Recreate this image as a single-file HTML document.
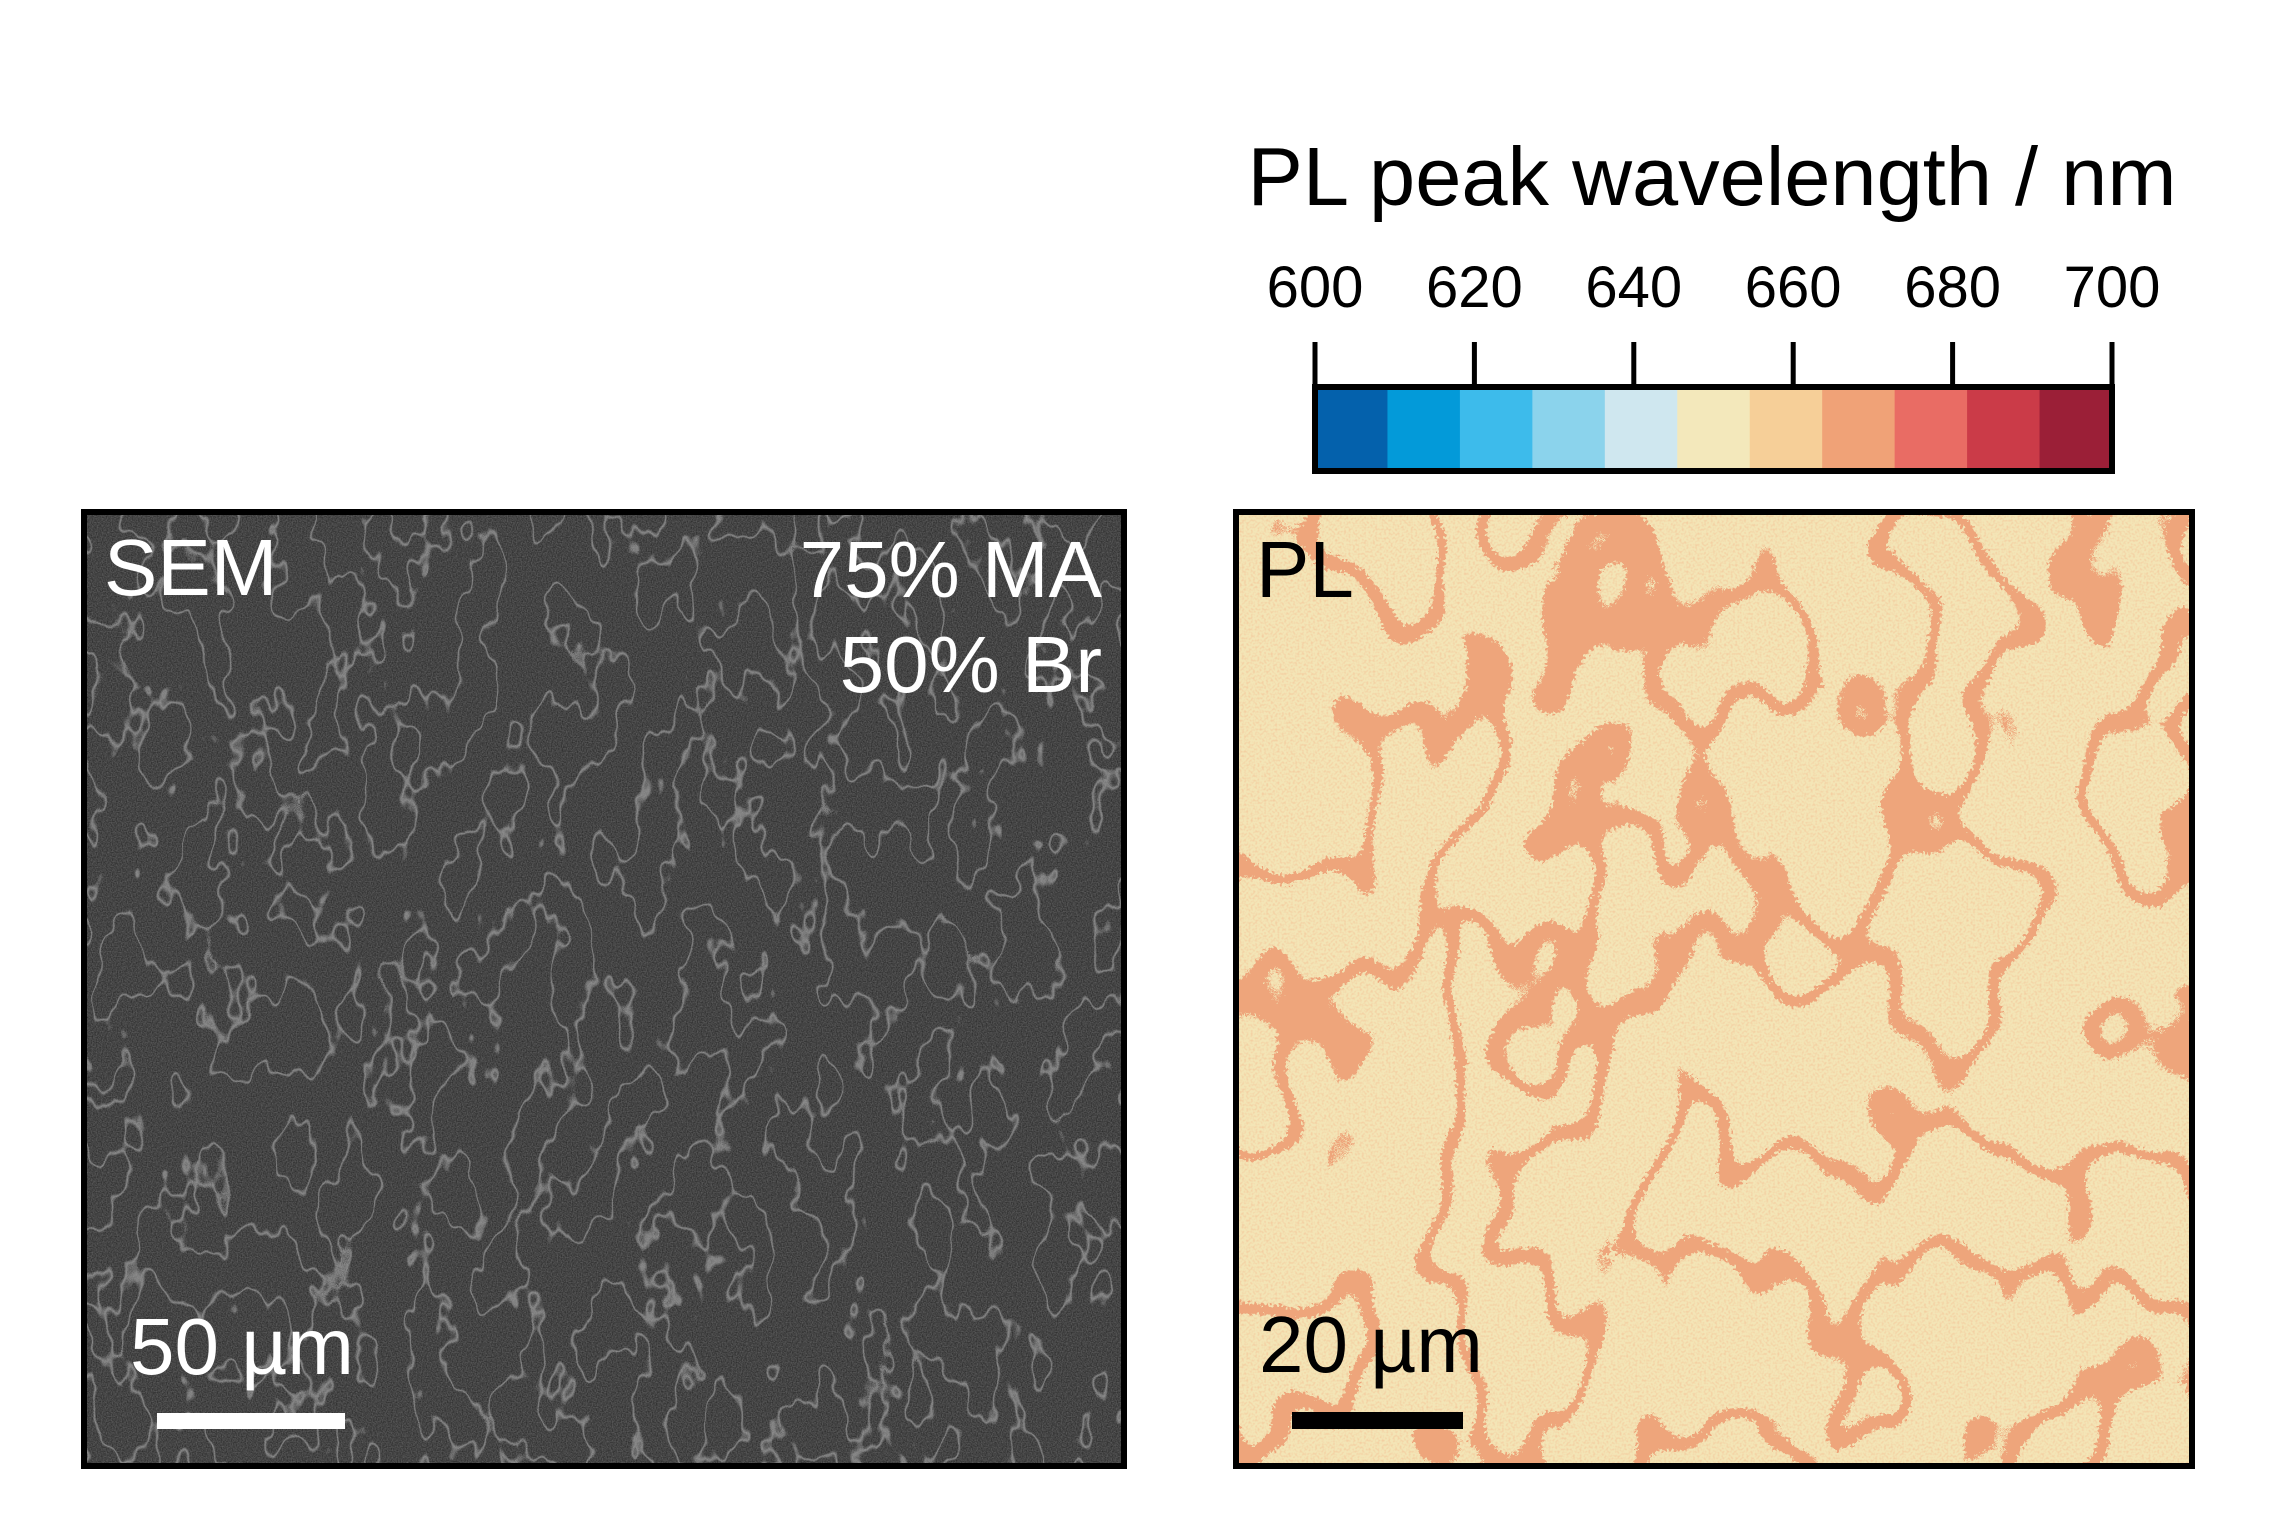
<!DOCTYPE html>
<html><head><meta charset="utf-8"><style>
html,body{margin:0;padding:0;background:#fff;}
svg{display:block;font-family:"Liberation Sans",Arial,sans-serif;}
</style></head><body>
<svg id="fig" width="2275" height="1533" viewBox="0 0 2275 1533">
<defs>
<filter id="semF" x="0" y="0" width="100%" height="100%" color-interpolation-filters="sRGB">
 <feTurbulence type="fractalNoise" baseFrequency="0.8" numOctaves="1" seed="3" result="grain"/>
 <feColorMatrix in="grain" type="matrix" values="0.7 0 0 0 -0.05  0.7 0 0 0 -0.05  0.7 0 0 0 -0.05  0 0 0 0 0.45" result="g2"/>
 <feTurbulence type="fractalNoise" baseFrequency="0.022 0.013" numOctaves="3" seed="7" result="t"/>
 <feColorMatrix in="t" type="matrix" values="0 0 0 0 0  0 0 0 0 0  0 0 0 0 0  1 0 0 0 0" result="ta"/>
 <feComponentTransfer in="ta" result="ridge"><feFuncA type="table" tableValues="0 0 0 0 0 0 0 0 0 0 0 0 0 0 0 0 0 0 0.7 0 0 0 0 0 0 0 0 0 0 0 0 0 0 0 0 0 0 0 0 0"/></feComponentTransfer>
 <feFlood flood-color="#a8a8a8" result="lc"/>
 <feComposite in="lc" in2="ridge" operator="in" result="lines"/>
 <feFlood flood-color="#3e3e3e" result="bg"/>
 <feMerge><feMergeNode in="bg"/><feMergeNode in="g2"/><feMergeNode in="lines"/></feMerge>
</filter>
<filter id="plF" x="0" y="0" width="100%" height="100%" color-interpolation-filters="sRGB">
 <feTurbulence type="fractalNoise" baseFrequency="0.009 0.007" numOctaves="2" seed="11" result="t"/>
 <feTurbulence type="fractalNoise" baseFrequency="0.35" numOctaves="1" seed="2" result="hn"/>
 <feDisplacementMap in="t" in2="hn" scale="12" xChannelSelector="R" yChannelSelector="G" result="td"/>
 <feColorMatrix in="td" type="matrix" values="0 0 0 0 0  0 0 0 0 0  0 0 0 0 0  1 0 0 0 0" result="ta"/>
 <feComponentTransfer in="ta" result="ridge"><feFuncA type="discrete" tableValues="0 0 0 0 0 0 0 0 0 0 0 0 0 0 0 0 0 1 1 1 0 0 0 0 0 0 0 0 0 0 0 0 0 0 0 0 0 0 0 0"/></feComponentTransfer>
 <feFlood flood-color="#eea57b" result="oc"/>
 <feComposite in="oc" in2="ridge" operator="in" result="bands"/>
 <feTurbulence type="fractalNoise" baseFrequency="0.45" numOctaves="1" seed="5" result="n"/>
 <feColorMatrix in="n" type="matrix" values="0 0 0 0 0.95  0 0 0 0 0.72  0 0 0 0 0.55  0 0 0 1.4 -0.6" result="speck"/>
 <feFlood flood-color="#f3e5b6" result="bg"/>
 <feMerge><feMergeNode in="bg"/><feMergeNode in="speck"/><feMergeNode in="bands"/></feMerge>
</filter>
</defs>

<text x="1712" y="205" font-size="83" text-anchor="middle" fill="#000">PL peak wavelength / nm</text>
<g id="cbar"></g>

<g>
 <rect x="84" y="512" width="1040" height="954" fill="#3e3e3e" filter="url(#semF)"/>
 <rect x="84" y="512" width="1040" height="954" fill="none" stroke="#000" stroke-width="6"/>
 <text x="104" y="595" font-size="80" fill="#fff">SEM</text>
 <text x="1102" y="597" font-size="80" fill="#fff" text-anchor="end">75% MA</text>
 <text x="1102" y="692" font-size="80" fill="#fff" text-anchor="end">50% Br</text>
 <text x="130" y="1374" font-size="80" fill="#fff">50 µm</text>
 <rect x="157" y="1413" width="188" height="16" fill="#fff"/>
</g>

<g>
 <rect x="1236" y="512" width="956" height="954" fill="#f3e5b6" filter="url(#plF)"/>
 <rect x="1236" y="512" width="956" height="954" fill="none" stroke="#000" stroke-width="6"/>
 <text x="1256" y="597" font-size="80" fill="#000">PL</text>
 <text x="1259" y="1372" font-size="80" fill="#000">20 µm</text>
 <rect x="1292" y="1412" width="171" height="17" fill="#000"/>
</g>
</svg>
<script>
const binColors = ["#0461ac","#039ad9","#3dbbeb","#8bd3ec","#cfe7ef","#f3e8bb","#f6cf98","#f0a277","#e96c64","#cb3b48","#9b1f37"];
const tickValues = [600,620,640,660,680,700];
const vmin = 600, vmax = 700;
const ns = "http://www.w3.org/2000/svg";
const g = document.getElementById('cbar');
const x0 = 1315, x1 = 2112, yTop = 387, yBot = 471;
const xs = v => x0 + (v - vmin) / (vmax - vmin) * (x1 - x0);
const binW = (vmax - vmin) / binColors.length;
binColors.forEach((c, i) => {
  const r = document.createElementNS(ns, 'rect');
  const a = xs(vmin + i * binW), b = xs(vmin + (i + 1) * binW);
  r.setAttribute('x', a); r.setAttribute('y', yTop);
  r.setAttribute('width', b - a + 0.5); r.setAttribute('height', yBot - yTop);
  r.setAttribute('fill', c);
  
  
  g.appendChild(r);
});
const fr = document.createElementNS(ns, 'rect');
fr.setAttribute('x', x0); fr.setAttribute('y', yTop);
fr.setAttribute('width', x1 - x0); fr.setAttribute('height', yBot - yTop);
fr.setAttribute('fill', 'none'); fr.setAttribute('stroke', '#000'); fr.setAttribute('stroke-width', '6');


g.appendChild(fr);
tickValues.forEach(v => {
  const x = xs(v);
  const l = document.createElementNS(ns, 'line');
  l.setAttribute('x1', x); l.setAttribute('x2', x);
  l.setAttribute('y1', 342); l.setAttribute('y2', yTop);
  l.setAttribute('stroke', '#000'); l.setAttribute('stroke-width', '5');
  
  
  g.appendChild(l);
  const t = document.createElementNS(ns, 'text');
  t.setAttribute('x', x); t.setAttribute('y', 307);
  t.setAttribute('font-size', '58'); t.setAttribute('text-anchor', 'middle');
  t.textContent = v;
  
  
  g.appendChild(t);
});
</script>
</body></html>
